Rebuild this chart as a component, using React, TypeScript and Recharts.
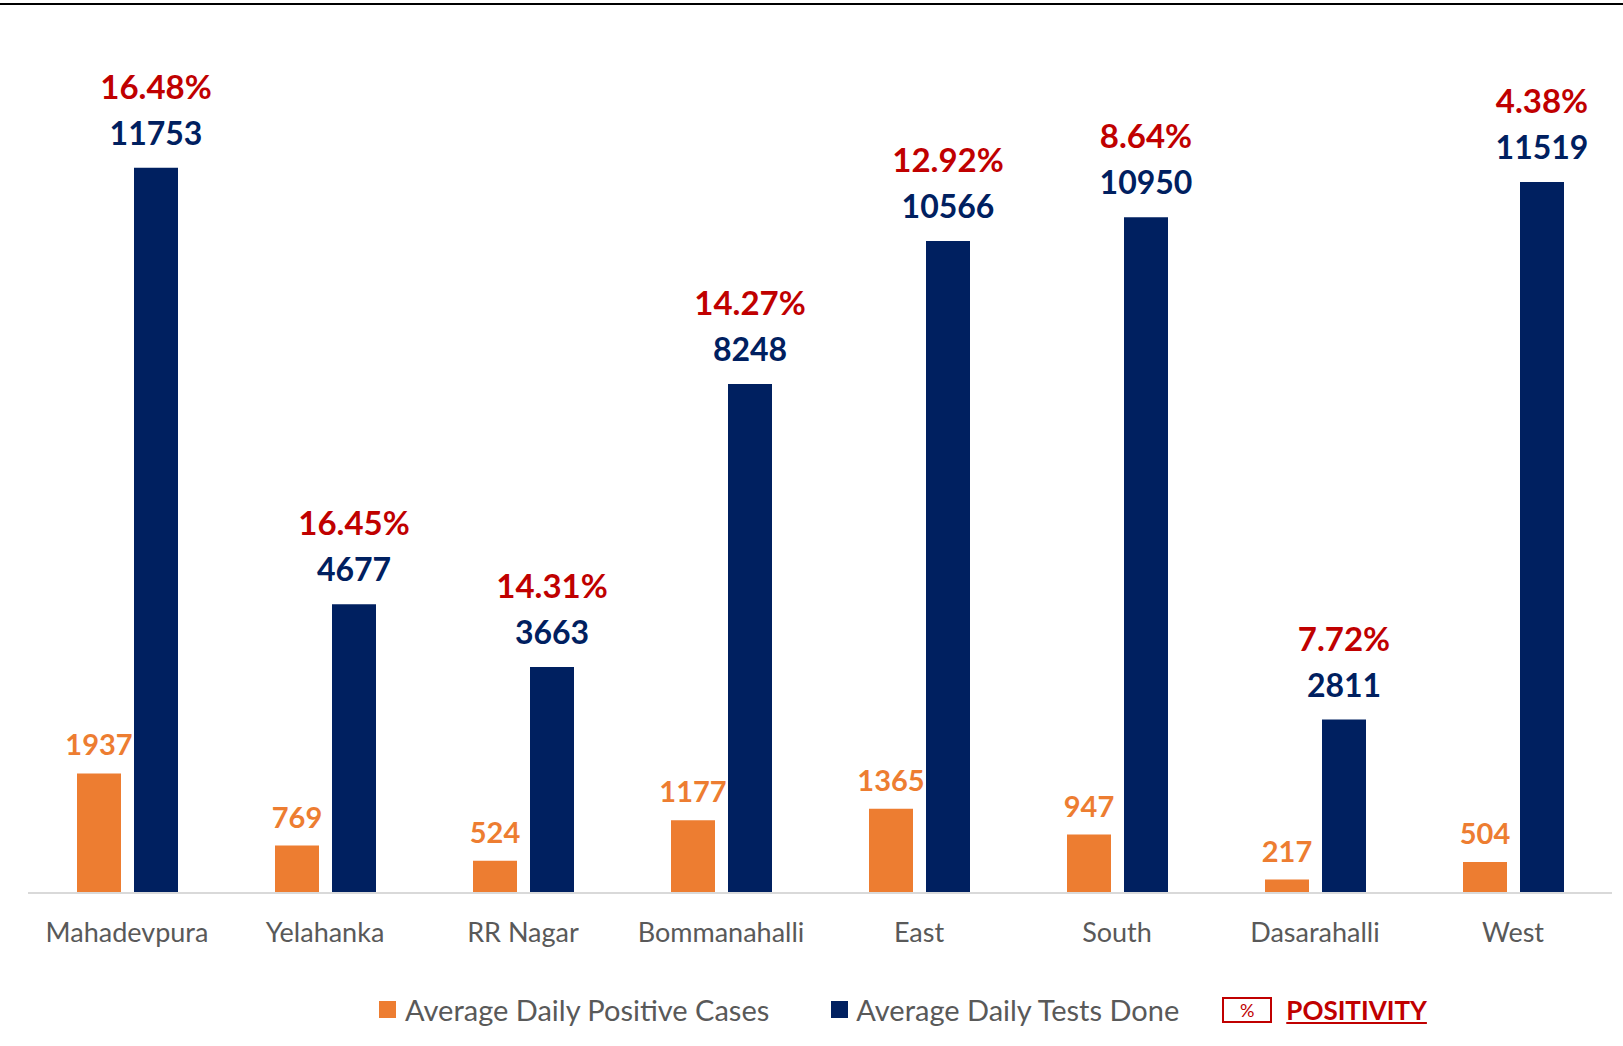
import { BarChart, Bar, XAxis, YAxis, Legend, LabelList } from 'recharts';

const zones = ['Mahadevpura', 'Yelahanka', 'RR Nagar', 'Bommanahalli', 'East', 'South', 'Dasarahalli', 'West'];
const positiveCases = [1937, 769, 524, 1177, 1365, 947, 217, 504];
const testsDone = [11753, 4677, 3663, 8248, 10566, 10950, 2811, 11519];
const positivity = ['16.48%', '16.45%', '14.31%', '14.27%', '12.92%', '8.64%', '7.72%', '4.38%'];

const data = zones.map((zone, i) => ({
  zone,
  positive: positiveCases[i],
  tests: testsDone[i],
  positivity: positivity[i],
}));

const ORANGE = '#ED7D31';
const NAVY = '#002060';
const RED = '#C00000';
const GRAY = '#595959';
const FONT = 'Lato, "Open Sans", sans-serif';

function TestsLabel(props: any) {
  const { x, y, width, value, index } = props;
  const cx = x + width / 2;
  return (
    <g>
      <text x={cx} y={y - 69} textAnchor="middle" fill={RED} fontSize={33} fontWeight={700} fontFamily={FONT}>
        {positivity[index]}
      </text>
      <text x={cx} y={y - 23} textAnchor="middle" fill={NAVY} fontSize={32} fontWeight={700} fontFamily={FONT}>
        {value}
      </text>
    </g>
  );
}

function ZoneTick(props: any) {
  const { x, y, payload } = props;
  return (
    <text x={x} y={y + 41} textAnchor="middle" fill={GRAY} fontSize={27} fontFamily={FONT}>
      {payload.value}
    </text>
  );
}

function LegendContent() {
  const item = { display: 'flex', alignItems: 'center', color: GRAY, fontSize: 29 } as const;
  return (
    <div
      style={{
        display: 'flex',
        justifyContent: 'center',
        alignItems: 'center',
        fontFamily: FONT,
        height: 73,
        paddingLeft: 166,
      }}
    >
      <div style={{ ...item, marginRight: 62 }}>
        <span style={{ width: 17, height: 17, background: ORANGE, marginRight: 9 }} />
        Average Daily Positive Cases
      </div>
      <div style={{ ...item, marginRight: 43 }}>
        <span style={{ width: 17, height: 17, background: NAVY, marginRight: 8 }} />
        Average Daily Tests Done
      </div>
      <div style={{ display: 'flex', alignItems: 'center' }}>
        <span
          style={{
            width: 46,
            height: 22,
            border: `2px solid ${RED}`,
            color: RED,
            fontSize: 18,
            display: 'flex',
            justifyContent: 'center',
            alignItems: 'center',
            marginRight: 14,
          }}
        >
          %
        </span>
        <span style={{ color: RED, fontWeight: 700, fontSize: 26, textDecoration: 'underline' }}>POSITIVITY</span>
      </div>
    </div>
  );
}

export default function App() {
  return (
    <div style={{ position: 'absolute', left: 0, top: 0, width: 1623, height: 1046, background: '#fff' }}>
      <div style={{ position: 'absolute', left: 0, top: 3, width: 1623, height: 2, background: '#000' }} />
      <BarChart
        width={1623}
        height={1046}
        data={data}
        margin={{ top: 29, right: 11, bottom: 0, left: 28 }}
        barSize={44}
        barGap={13}
      >
        <XAxis
          dataKey="zone"
          height={80}
          tickLine={false}
          axisLine={{ stroke: '#D9D9D9', strokeWidth: 2 }}
          tick={<ZoneTick />}
          interval={0}
        />
        <YAxis hide domain={[0, 14000]} />
        <Legend verticalAlign="bottom" height={73} content={<LegendContent />} />
        <Bar dataKey="positive" fill={ORANGE} isAnimationActive={false}>
          <LabelList
            dataKey="positive"
            position="top"
            offset={18}
            fill={ORANGE}
            fontSize={29}
            fontWeight={700}
            fontFamily={FONT}
          />
        </Bar>
        <Bar dataKey="tests" fill={NAVY} isAnimationActive={false}>
          <LabelList dataKey="tests" content={<TestsLabel />} />
        </Bar>
      </BarChart>
    </div>
  );
}
